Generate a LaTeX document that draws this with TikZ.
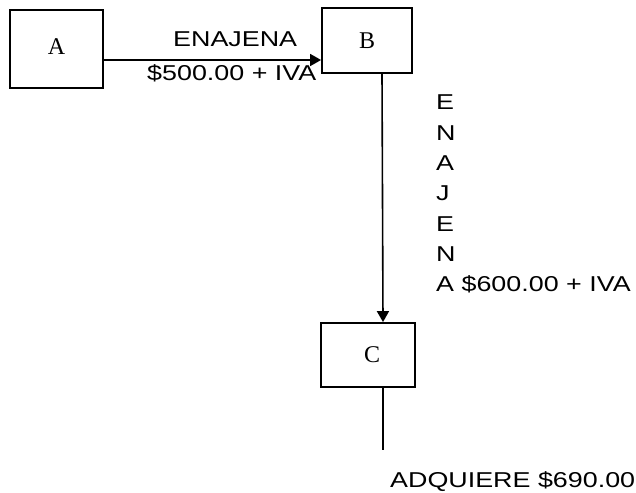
\documentclass[tikz,border=0pt]{standalone}
\usepackage{fontspec}
\usepackage{tikz}
\usetikzlibrary{arrows.meta}
\newfontfamily\arialx{Liberation Sans}[FakeStretch=1.25]
\newfontfamily\timesx{Liberation Serif}
\tikzset{
  caja/.style  ={draw=black, line width=1.8pt, inner sep=0pt, font=\timesx\fontsize{24}{28}\selectfont},
  flecha/.style={draw=black, line width=1.6pt, -{Triangle[length=11pt,width=12pt]}},
  linea/.style ={draw=black, line width=1.6pt},
  texto/.style ={inner sep=0pt, anchor=base west, align=left, font=\arialx\fontsize{21.5}{30.3}\selectfont},
}
\begin{document}
\begin{tikzpicture}[x=1pt, y=-1pt]
  \useasboundingbox (0,0) rectangle (636,492);
  \node[caja, minimum width=93pt, minimum height=78pt] (A) at (56.5,49) {\raisebox{5pt}{A}};
  \node[caja, minimum width=90pt, minimum height=65pt] (B) at (367,40.5) {\raisebox{-2pt}{B}};
  \node[caja, minimum width=94pt, minimum height=64pt] (C) at (368,355) {\hspace{8pt}\raisebox{-2pt}{C}};
  \coordinate (fin) at (383,450);
  \draw[flecha] ([yshift=-11pt]A.east) -- ([yshift=-11pt]A.east -| B.west);
  \draw[flecha] ([xshift=15pt]B.south) -- ([xshift=15pt]C.north);
  \draw[linea] ([xshift=15pt]C.south) -- (fin);
  \node[texto] (t1) at (173,47) {ENAJENA};
  \node[texto] (t2) at (147,81) {\$500.00 + IVA};
  \node[texto, anchor=north west] (t3) at (436,95) {E\\N\\A\\J\\E\\N\\A \$600.00 + IVA};
  \node[texto] (t4) at (390,487) {ADQUIERE \$690.00};
\end{tikzpicture}
\end{document}
